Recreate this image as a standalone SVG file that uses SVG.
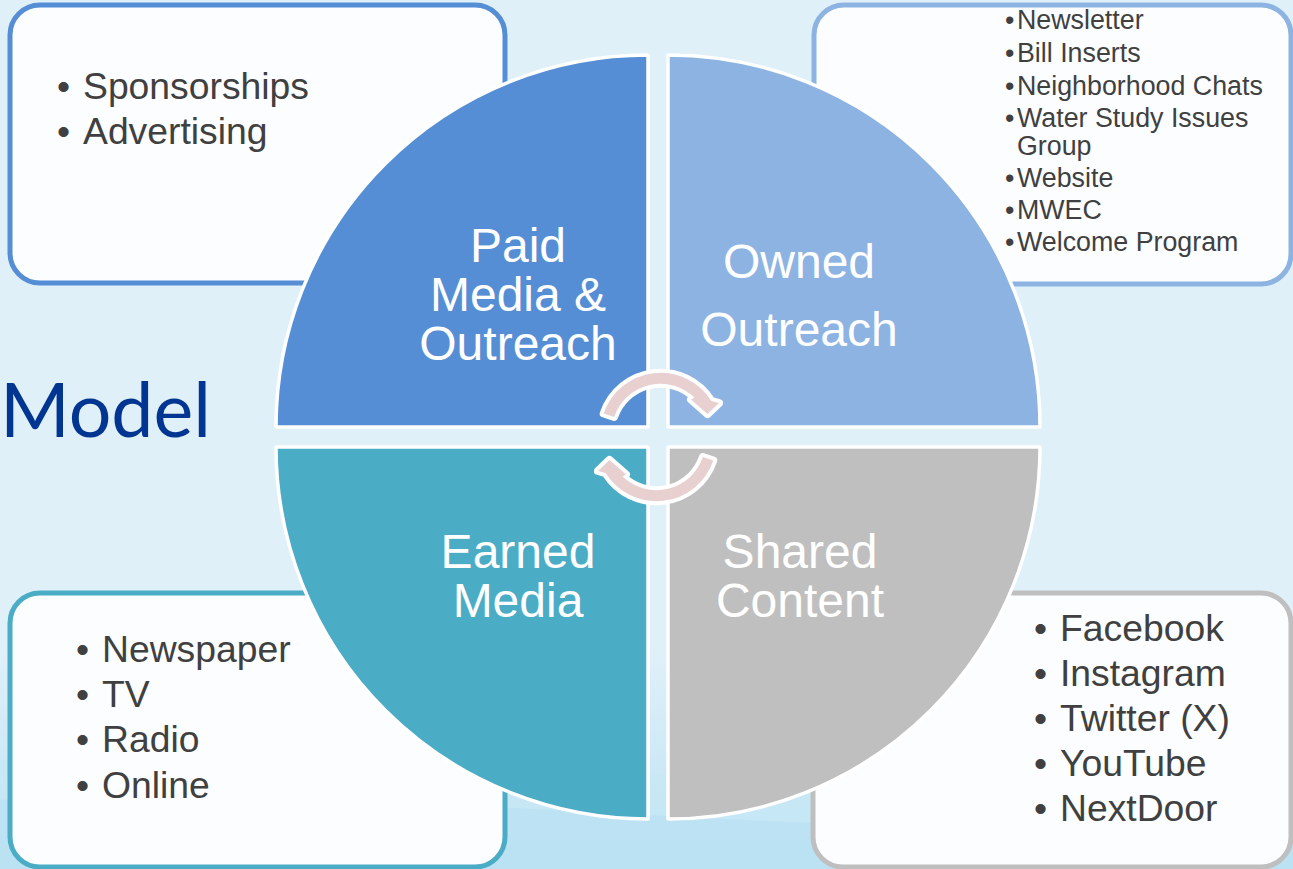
<svg xmlns="http://www.w3.org/2000/svg" width="1293" height="869" viewBox="0 0 1293 869">
  <defs>
    <linearGradient id="bg" x1="0" y1="0" x2="0" y2="1">
      <stop offset="0" stop-color="#e0f0f9"/>
      <stop offset="0.75" stop-color="#dff0f9"/>
      <stop offset="1" stop-color="#bde2f3"/>
    </linearGradient>
    <style>
      .box { fill: #fbfdff; stroke-width: 5; }
      .quad { stroke: #ffffff; stroke-width: 3.5; stroke-linejoin: round; }
      .lbl { font-family: "Liberation Sans", Arial, sans-serif; font-size: 48px; fill: #ffffff; text-anchor: middle; }
      .item { font-family: "Liberation Sans", Arial, sans-serif; fill: #404040; }
      .big { font-size: 37.3px; }
      .small { font-size: 26.8px; }
      .arrow { fill: #e8d0d0; stroke: #ffffff; stroke-width: 8; stroke-linejoin: round; paint-order: stroke; }
    </style>
  </defs>

  <rect x="0" y="0" width="1293" height="869" fill="url(#bg)"/>
  <path d="M0 760 C 300 730, 700 800, 1293 790 L 1293 869 L 0 869 Z" fill="#c6e7f5" opacity="0.6"/>
  <path d="M0 800 C 350 780, 750 840, 1293 830 L 1293 869 L 0 869 Z" fill="#b6dff2" opacity="0.6"/>

  <text x="0" y="437" font-family="Lato, 'Open Sans', sans-serif" font-size="76" fill="#003591" textLength="211" lengthAdjust="spacingAndGlyphs">Model</text>

  <g id="box-paid">
    <rect class="box" x="10" y="5" width="495" height="278" rx="30" stroke="#558ed5"/>
    <text class="item big" x="57" y="99">•</text>
    <text class="item big" x="83" y="99">Sponsorships</text>
    <text class="item big" x="57" y="144">•</text>
    <text class="item big" x="83" y="144">Advertising</text>
  </g>

  <g id="box-owned">
    <rect class="box" x="814" y="5" width="477" height="279" rx="30" stroke="#8db3e2"/>
    <g class="item small">
      <text x="1005" y="29">•</text><text x="1017" y="29">Newsletter</text>
      <text x="1005" y="62">•</text><text x="1017" y="62">Bill Inserts</text>
      <text x="1005" y="94.5">•</text><text x="1017" y="94.5">Neighborhood Chats</text>
      <text x="1005" y="127">•</text><text x="1017" y="127">Water Study Issues</text>
      <text x="1017" y="155">Group</text>
      <text x="1005" y="187">•</text><text x="1017" y="187">Website</text>
      <text x="1005" y="219">•</text><text x="1017" y="219">MWEC</text>
      <text x="1005" y="251">•</text><text x="1017" y="251">Welcome Program</text>
    </g>
  </g>

  <g id="box-earned">
    <rect class="box" x="10" y="593" width="495" height="274" rx="30" stroke="#4bacc6"/>
    <g class="item big">
      <text x="76" y="662">•</text><text x="102" y="662">Newspaper</text>
      <text x="76" y="707">•</text><text x="102" y="707">TV</text>
      <text x="76" y="752">•</text><text x="102" y="752">Radio</text>
      <text x="76" y="798">•</text><text x="102" y="798">Online</text>
    </g>
  </g>

  <g id="box-shared">
    <rect class="box" x="813" y="593" width="478" height="274" rx="30" stroke="#bfbfbf"/>
    <g class="item big">
      <text x="1034" y="641">•</text><text x="1060" y="641">Facebook</text>
      <text x="1034" y="686">•</text><text x="1060" y="686">Instagram</text>
      <text x="1034" y="731">•</text><text x="1060" y="731">Twitter (X)</text>
      <text x="1034" y="776">•</text><text x="1060" y="776">YouTube</text>
      <text x="1034" y="821">•</text><text x="1060" y="821">NextDoor</text>
    </g>
  </g>

  <g id="paid">
    <path class="quad" d="M648 427 L276 427 A372 372 0 0 1 648 55 Z" fill="#558ed5"/>
    <text class="lbl" x="518" y="262">Paid</text>
    <text class="lbl" x="518" y="311">Media &amp;</text>
    <text class="lbl" x="518" y="360">Outreach</text>
  </g>

  <g id="owned">
    <path class="quad" d="M668 427 L668 55 A372 372 0 0 1 1040 427 Z" fill="#8db3e2"/>
    <text class="lbl" x="799" y="278">Owned</text>
    <text class="lbl" x="799" y="346">Outreach</text>
  </g>

  <g id="shared">
    <path class="quad" d="M668 447 L1040 447 A372 372 0 0 1 668 819 Z" fill="#bfbfbf"/>
    <text class="lbl" x="800" y="568">Shared</text>
    <text class="lbl" x="800" y="617">Content</text>
  </g>

  <g id="earned">
    <path class="quad" d="M648 447 L648 819 A372 372 0 0 1 276 447 Z" fill="#4bacc6"/>
    <text class="lbl" x="518" y="568">Earned</text>
    <text class="lbl" x="518" y="617">Media</text>
  </g>

  <g id="connectors">
    <path id="arrow-top" class="arrow" d="M603.7 413.5 A60 60 0 0 1 711.4 400.9 L719 403 L707.5 414 L691 399.5 L694.5 397.5 A49 49 0 0 0 614.1 417 Z"/>
    <path id="arrow-bottom" class="arrow" transform="rotate(180 658.5 437)" d="M603.7 413.5 A60 60 0 0 1 711.4 400.9 L719 403 L707.5 414 L691 399.5 L694.5 397.5 A49 49 0 0 0 614.1 417 Z"/>
  </g>
</svg>
